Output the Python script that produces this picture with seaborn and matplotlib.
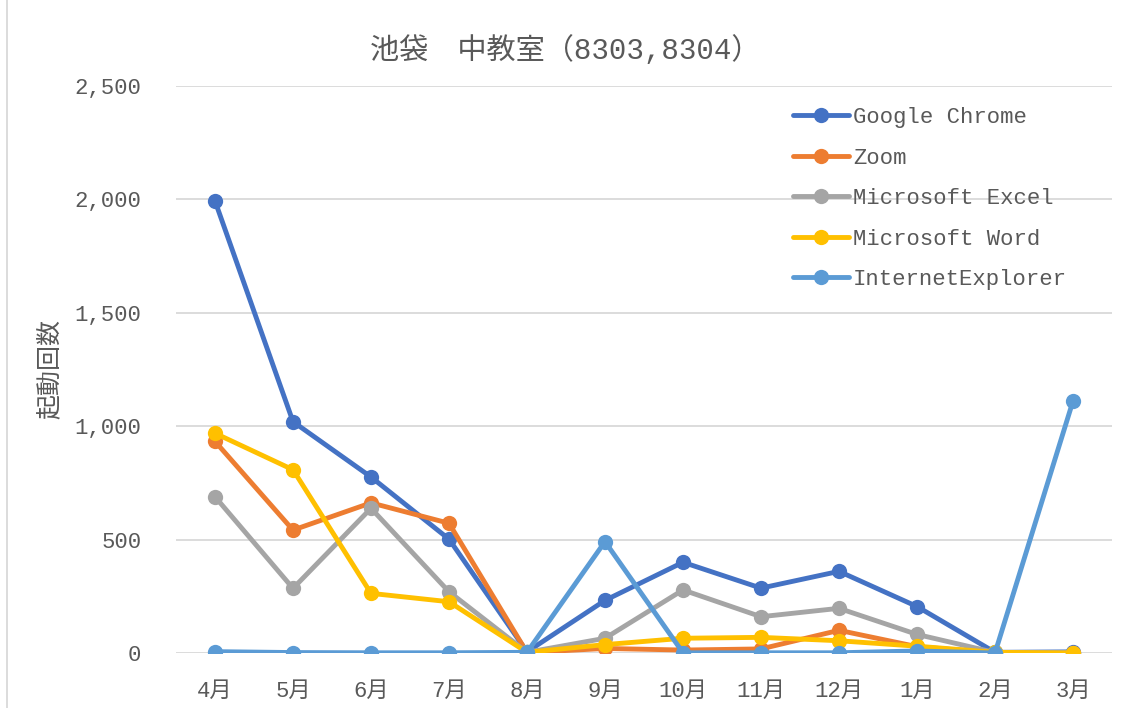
import matplotlib
matplotlib.use("Agg")
import matplotlib.pyplot as plt
from matplotlib.lines import Line2D
import seaborn as sns
import pandas as pd

months = ['4月', '5月', '6月', '7月', '8月', '9月', '10月', '11月', '12月', '1月', '2月', '3月']
apps = ['Google Chrome', 'Zoom', 'Microsoft Excel', 'Microsoft Word', 'InternetExplorer']
chrome = [1993, 1020, 776, 502, 5, 232, 400, 286, 360, 205, 3, 5]
zoom = [933, 542, 662, 572, 2, 20, 13, 18, 100, 28, 0, 0]
excel = [689, 285, 638, 270, 3, 65, 278, 160, 197, 82, 2, 2]
word = [969, 808, 263, 226, 3, 37, 65, 69, 54, 30, 3, 0]
ie = [6, 2, 1, 1, 3, 491, 1, 1, 1, 9, 0, 1111]
yticks = [0, 500, 1000, 1500, 2000, 2500]
colors = ['#4472C4', '#ED7D31', '#A5A5A5', '#FFC000', '#5B9BD5']

series = [chrome, zoom, excel, word, ie]
rows = []
for app, vals in zip(apps, series):
    for i, (m, v) in enumerate(zip(months, vals)):
        rows.append({'idx': i, 'month': m, 'app': app, 'count': v})
df = pd.DataFrame(rows)

sns.set_theme(style='white')
fam = ['Liberation Mono', 'Noto Sans CJK JP']
plt.rcParams['font.family'] = fam
text_color = '#595959'
lw = 3.5
ms = 11

fig = plt.figure(figsize=(11.31, 7.08), dpi=100)
ax = fig.add_axes([176 / 1131, 1 - 653 / 708, (1112 - 176) / 1131, (653 - 86) / 708])

sns.lineplot(data=df, x='idx', y='count', hue='app', hue_order=apps,
             palette=colors, marker='o', markersize=ms, markeredgewidth=0,
             linewidth=lw, sort=False, errorbar=None, legend=False, ax=ax)

ax.set_xlim(-0.5, len(months) - 0.5)
ax.set_ylim(0, 2500)
ax.set_xticks(range(len(months)))
ax.set_xticklabels(months)
ax.set_yticks(yticks)
ax.set_yticklabels([f'{t:,}' for t in yticks])
ax.tick_params(axis='x', length=0, pad=20, labelsize=16, colors=text_color)
ax.tick_params(axis='y', length=0, pad=25, labelsize=16, colors=text_color)
ax.yaxis.grid(True, color='#D9D9D9', linewidth=1.3)
ax.set_axisbelow(True)
for s in ax.spines.values():
    s.set_visible(False)
ax.set_xlabel('')
ax.set_ylabel('')

fig.text(50 / 1131, 1 - 369 / 708, '起動回数', rotation=90, ha='center', va='center',
         fontsize=18, color=text_color, family=fam)
fig.text(565 / 1131, 1 - 50 / 708, '池袋　中教室（8303,8304）', ha='center', va='center',
         fontsize=21, color=text_color, family=fam)

handles = [Line2D([0], [0], color=c, linewidth=lw, marker='o', markersize=ms,
                  markeredgewidth=0) for c in colors]
leg = fig.legend(handles, apps, loc='upper left',
                 bbox_to_anchor=(793 / 1131, 1 - 107 / 708),
                 frameon=False, fontsize=16, handlelength=2.5, handletextpad=0.2,
                 labelspacing=0.88, borderpad=0, borderaxespad=0)
for t in leg.get_texts():
    t.set_color(text_color)

fig.add_artist(Line2D([7 / 1131, 7 / 1131], [0, 1], color='#D9D9D9', linewidth=1.3,
                      transform=fig.transFigure))

fig.savefig('out.png', dpi=100)
